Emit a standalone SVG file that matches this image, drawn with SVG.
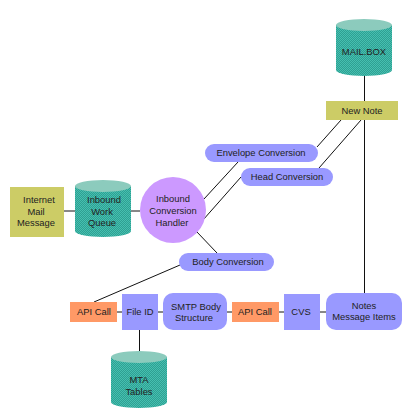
<svg xmlns="http://www.w3.org/2000/svg" width="410" height="420" viewBox="0 0 410 420">
<style>
text{font-family:"Liberation Sans",Arial,sans-serif;font-size:9.4px;fill:#222;text-anchor:middle}
.c line{stroke:#111;stroke-width:1}
.o{fill:#cccc66}.p{fill:#9999ff}.a{fill:#ff9966}
.b{fill:url(#d)}.t{fill:#8ccbbd}
</style>
<defs><pattern id="d" width="2" height="2" patternUnits="userSpaceOnUse"><rect width="2" height="2" fill="#2f9f92"/><rect width="1" height="1" fill="#45c0b0"/><rect x="1" y="1" width="1" height="1" fill="#45c0b0"/></pattern></defs>
<rect width="410" height="420" fill="#fff"/>
<g class="c" id="connectors">
<line x1="64" y1="211" x2="75" y2="211"/><line x1="131" y1="211" x2="140" y2="211"/>
<line x1="364.500" y1="76" x2="364.500" y2="101"/><line x1="364.500" y1="120" x2="364.500" y2="293"/>
<line x1="341" y1="120" x2="317" y2="147"/><line x1="238" y1="162" x2="204" y2="199"/>
<line x1="361" y1="120" x2="319" y2="168"/><line x1="241" y1="177" x2="203" y2="220"/>
<line x1="197" y1="232" x2="217" y2="253"/><line x1="180" y1="265" x2="94" y2="302"/>
<line x1="117" y1="312" x2="122" y2="312"/><line x1="158" y1="312" x2="163" y2="312"/><line x1="227" y1="312" x2="232" y2="312"/><line x1="279" y1="312" x2="284" y2="312"/><line x1="320" y1="312" x2="326" y2="312"/>
<line x1="139.500" y1="330" x2="139.500" y2="351"/>
</g>
<g id="internet-mail"><rect class="o" x="10" y="187" width="54" height="50"/><text x="39" y="203">Internet</text><text x="36" y="215">Mail</text><text x="36" y="226">Message</text></g>
<g id="inbound-queue"><path class="b" d="M75 186V231A28 6 0 0 0 131 231V186Z"/><ellipse class="t" cx="103" cy="186" rx="28" ry="6"/><text x="104" y="203">Inbound</text><text x="102" y="215">Work</text><text x="102" y="226">Queue</text></g>
<g id="handler"><circle cx="173" cy="210" r="33" fill="#cc99ff"/><text x="173" y="202">Inbound</text><text x="173" y="214">Conversion</text><text x="172" y="226">Handler</text></g>
<g id="mailbox"><path class="b" d="M336 25V70A28 6 0 0 0 392 70V25Z"/><ellipse class="t" cx="364" cy="25" rx="28" ry="6"/><text x="364" y="55">MAIL.BOX</text></g>
<g id="new-note"><rect class="o" x="326" y="101" width="72" height="19"/><text x="362" y="114">New Note</text></g>
<g id="envelope"><rect class="p" x="205" y="144" width="113" height="18" rx="9"/><text x="261" y="156">Envelope Conversion</text></g>
<g id="head"><rect class="p" x="241" y="168" width="92" height="18" rx="9"/><text x="287" y="180">Head Conversion</text></g>
<g id="body"><rect class="p" x="179" y="253" width="95" height="18" rx="9"/><text x="228" y="265">Body Conversion</text></g>
<g id="api1"><rect class="a" x="70" y="302" width="47" height="20"/><text x="94" y="315">API Call</text></g>
<g id="fileid"><rect class="p" x="122" y="294" width="36" height="36"/><text x="140" y="315">File ID</text></g>
<g id="smtp"><rect class="p" x="163" y="293" width="64" height="37" rx="10"/><text x="196" y="310">SMTP Body</text><text x="194" y="321">Structure</text></g>
<g id="api2"><rect class="a" x="232" y="302" width="47" height="20"/><text x="255" y="315">API Call</text></g>
<g id="cvs"><rect class="p" x="284" y="294" width="36" height="36"/><text x="301" y="315">CVS</text></g>
<g id="notes"><rect class="p" x="326" y="293" width="76" height="37" rx="10"/><text x="364" y="309">Notes</text><text x="364" y="320">Message Items</text></g>
<g id="mta"><path class="b" d="M111 357V402A28 6 0 0 0 167 402V357Z"/><ellipse class="t" cx="139" cy="357" rx="28" ry="6"/><text x="139" y="383">MTA</text><text x="139" y="395">Tables</text></g>
</svg>
